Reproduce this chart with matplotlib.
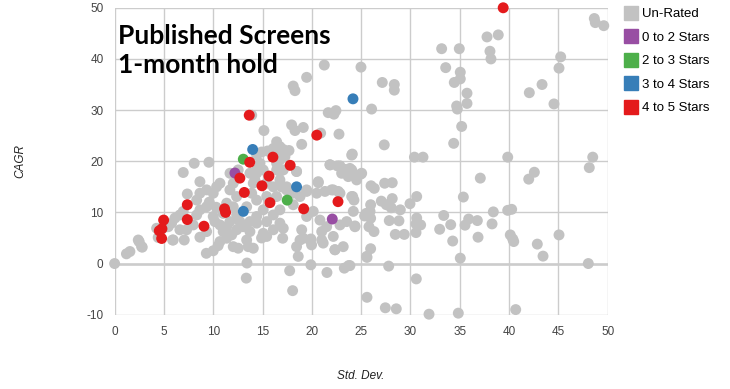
import numpy as np
import matplotlib.pyplot as plt
from matplotlib.lines import Line2D

# Std. Dev. / CAGR pairs
unrated_x = [
    0.0, 1.2, 2.5, 2.8, 1.55, 2.4, 2.74,
    24.98, 27.14, 28.36, 28.36, 26.06, 27.34, 24.1, 30.4, 31.27, 33.16, 34.95, 33.57, 35.05,
    35.05, 34.44, 35.73, 35.73, 34.68, 34.75, 35.19, 34.38, 37.76, 38.9, 38.06, 38.16, 39.86,
    42.05, 43.34, 44.55, 45.06, 45.23, 48.64, 48.74, 49.6, 48.48,
    21.26, 19.47, 18.11, 18.29, 16.09, 15.5,
    48.13, 42.56, 41.99, 37.08, 35.36, 38.4, 39.86, 40.26, 38.27, 36.78, 35.9, 35.53, 36.85,
    34.08, 33.37, 32.96, 34.28, 35.05, 40.12, 40.37, 40.47, 42.86, 43.44, 45.06, 48.03, 30.59,
    25.59, 27.45, 28.56, 31.88, 34.85, 40.67, 27.79, 25.59, 25.96, 23.86, 29.95, 30.63, 30.63,
    30.56, 31.03, 30.56, 29.37, 28.46, 28.83, 27.85, 28.97, 28.05, 27.55, 27.04, 28.15, 27.38,
    28.15, 26.0, 26.33, 25.96, 25.35, 25.96, 25.79, 26.3, 24.37, 24.27, 24.14, 24.54, 24.98,
    24.04, 24.04, 25.5, 25.9,
    13.9, 15.14, 17.95, 18.29, 19.13, 18.97, 21.66, 22.44, 22.24, 20.89, 22.75, 16.43, 16.76,
    17.1, 17.68, 14.9, 14.4, 16.26, 16.76, 18.45, 17.1, 16.43, 21.84, 22.58, 23.36, 23.86,
    23.02, 25.05, 20.65, 19.47, 17.43, 16.92, 14.23, 14.4, 22.0, 22.68,
    8.07, 9.56, 6.96, 8.65, 7.37, 9.33, 10.34, 10.68, 10.0, 8.65, 8.32, 6.96, 6.62, 6.12,
    5.78, 5.27, 4.26, 4.42, 5.88, 7.06, 6.62, 7.3, 7.97, 8.65, 9.33, 8.32, 8.65, 9.33, 10.0,
    10.17, 10.0, 10.68, 11.01, 10.68, 11.36, 11.69, 12.03, 12.53, 13.55, 14.06, 13.42, 13.35,
    17.75, 18.05, 19.9, 21.53, 23.29, 23.73, 14.9, 15.07, 13.72, 13.04, 12.37, 12.7, 13.72,
    14.4, 15.42, 16.09, 16.76, 17.1, 17.04, 18.97, 19.13, 18.8, 18.45, 18.62, 19.8, 19.97,
    21.15, 21.0, 22.17, 22.34, 23.18, 20.82, 21.5, 22.85, 23.53, 24.37, 24.2, 20.65, 20.49,
    21.33, 22.17, 22.85, 24.04, 21.84, 22.85, 23.86, 23.69, 24.54, 18.8, 19.47, 18.11, 19.47,
    20.14, 18.11, 17.44, 16.76, 16.76, 16.43, 17.27, 18.45, 14.74, 14.4, 14.06, 13.9, 14.4,
    15.42, 16.43, 16.76, 15.07, 14.4, 13.39, 12.03, 12.37, 11.69, 12.03, 11.36, 12.37, 11.87,
    11.36, 15.42, 16.09, 13.39, 12.53, 13.72, 15.07, 15.42, 16.09, 11.7, 5.94, 5.44, 9.6,
    10.3, 11.0, 10.5, 9.3, 19.9, 21.0, 22.34, 25.56,
]
unrated_y = [
    0.0, 1.9, 4.25, 3.2, 2.35, 4.6, 3.3,
    38.4, 35.4, 35.0, 33.9, 30.2, 23.2, 21.4, 20.8, 20.8, 42.0, 42.0, 38.3, 37.4,
    36.1, 35.4, 33.3, 31.3, 30.8, 30.2, 26.8, 23.5, 44.3, 44.7, 41.5, 40.0, 20.8,
    33.4, 35.0, 31.2, 38.2, 40.4, 47.9, 47.1, 46.5, 20.8,
    38.8, 36.4, 34.7, 33.8, 22.5, 22.0,
    18.75, 17.85, 16.5, 16.7, 13.0, 10.1, 10.4, 10.6, 7.75, 8.4, 8.7, 7.5, 5.15,
    7.6, 9.4, 6.7, 4.4, 1.05, 5.6, 4.8, 4.3, 3.8, 1.45, 5.6, 0.0, -3.0,
    -6.6, -8.65, -8.85, -9.9, -9.7, -9.0, -0.5, 1.2, 2.9, -0.4, 11.7, 13.1, 8.9,
    7.75, 7.55, 6.05, 5.7, 5.7, 8.35, 8.4, 10.5, 10.9, 11.5, 12.2, 12.7, 15.7,
    15.8, 15.2, 14.7, 11.5, 9.3, 8.85, 7.2, 6.25, 7.35, 12.4, 13.1, 17.0, 17.5,
    18.3, 21.2, 9.8, 10.2,
    29.0, 26.0, 27.1, 26.0, 26.6, 23.3, 29.5, 29.9, 29.2, 25.5, 25.3, 23.8, 22.85,
    22.3, 22.1, 21.8, 21.2, 21.6, 20.25, 18.0, 18.3, 18.3, 19.3, 19.1, 18.4, 18.3,
    17.65, 17.65, 16.0, 14.4, 14.4, 15.0, 16.3, 18.3, 14.4, 14.1,
    19.6, 19.8, 17.8, 16.0, 13.6, 14.4, 15.0, 15.7, 13.75, 13.75, 12.4, 10.2, 9.5, 8.9,
    7.9, 7.2, 6.9, 5.1, 4.6, 4.6, 6.6, 6.6, 7.55, 5.15, 6.25, 9.5, 10.5, 11.1, 9.2,
    8.2, 2.5, 4.3, 6.25, 7.55, 7.2, 8.2, 3.3, 3.0, 3.3, 3.0, 0.1, -2.85,
    -1.4, -5.3, -0.25, -1.75, -0.9, -0.4, 5.0, 5.9, 6.25, 7.2, 6.6, 8.2, 8.2,
    7.9, 8.2, 9.5, 7.9, 6.9, 4.95, 6.6, 4.95, 4.6, 3.3, 1.4, 4.6, 3.65,
    4.0, 6.25, 5.3, 2.7, 3.3, 8.5, 7.2, 7.55, 8.2, 7.2, 10.2, 15.8, 13.75,
    14.1, 14.4, 13.75, 13.1, 19.3, 19.1, 18.6, 17.0, 16.35, 13.1, 14.1, 11.5, 9.2,
    10.2, 13.75, 15.0, 16.35, 18.0, 19.6, 20.9, 18.0, 19.6, 17.65, 15.7, 13.75, 12.4,
    13.1, 13.1, 10.5, 10.5, 9.2, 11.1, 11.1, 13.1, 14.4, 15.7, 11.8, 9.5, 5.6,
    4.95, 5.3, 6.6, 4.6, 18.3, 17.65, 18.3, 15.7, 15.0, 17.65, 4.6, 7.2, 12.0,
    11.0, 9.8, 3.5, 2.0, 4.8, 4.6, 2.7, 1.4,
]

stars02_x = [12.2, 22.07]
stars02_y = [17.7, 8.7]

stars23_x = [13.05, 17.5]
stars23_y = [20.4, 12.4]

stars34_x = [24.17, 14.0, 18.45, 13.05]
stars34_y = [32.2, 22.3, 15.0, 10.2]

stars45_x = [39.4, 13.65, 20.5, 13.7, 16.05, 17.8, 12.7, 15.65, 14.94, 13.15, 15.75,
             7.37, 11.15, 11.25, 19.17, 22.65, 4.97, 7.37, 9.06, 4.8, 4.53, 4.77]
stars45_y = [50.0, 29.0, 25.1, 19.8, 20.8, 19.2, 16.7, 17.1, 15.2, 13.9, 11.9,
             11.5, 10.7, 10.0, 10.7, 12.1, 8.5, 8.6, 7.3, 6.8, 6.4, 4.9]

SERIES = [
    ("Un-Rated", unrated_x, unrated_y, "#c2c2c2"),
    ("0 to 2 Stars", stars02_x, stars02_y, "#984ea3"),
    ("2 to 3 Stars", stars23_x, stars23_y, "#4daf4a"),
    ("3 to 4 Stars", stars34_x, stars34_y, "#377eb8"),
    ("4 to 5 Stars", stars45_x, stars45_y, "#e41a1c"),
]

plt.rcParams["font.family"] = ["Liberation Sans", "DejaVu Sans"]
plt.rcParams["axes.unicode_minus"] = False

fig = plt.figure(figsize=(7.3, 3.89), dpi=100)
ax = fig.add_axes([0.157, 0.191, 0.6755, 0.789])

for name, xs, ys, col in SERIES:
    ax.scatter(xs, ys, s=62, color=col, edgecolors="none", zorder=3, clip_on=False)

ax.set_xlim(0, 50)
ax.set_ylim(-10, 50)
ax.set_xticks(np.arange(0, 51, 5))
ax.set_yticks(np.arange(-10, 51, 10))
ax.grid(True, color="#cccccc", lw=1, zorder=0)
ax.axhline(0, color="#333333", lw=1, zorder=1)
ax.axvline(0, color="#333333", lw=1.2, zorder=1)
for s in ax.spines.values():
    s.set_visible(False)
ax.tick_params(length=0, labelsize=8.5, colors="#444444", pad=8)

ax.set_xlabel("Std. Dev.", style="italic", fontsize=8.5, color="#222222", labelpad=23)
ax.set_ylabel("CAGR", style="italic", fontsize=8.5, color="#222222", labelpad=43)

ax.text(0.007, 0.948, "Published Screens\n1-month hold", transform=ax.transAxes,
        ha="left", va="top", fontsize=19, fontweight="bold", family="Lato",
        linespacing=1.25, zorder=5)

handles = [Line2D([], [], marker="s", ls="none", color=c, markersize=10) for _, _, _, c in SERIES]
fig.legend(handles, [s[0] for s in SERIES], loc="upper left", bbox_to_anchor=(0.843, 1.0),
           frameon=False, fontsize=9.5, handletextpad=0.2, labelspacing=0.86,
           handlelength=1.2, borderaxespad=0.2)

fig.savefig("out.png", dpi=100, facecolor="white")
